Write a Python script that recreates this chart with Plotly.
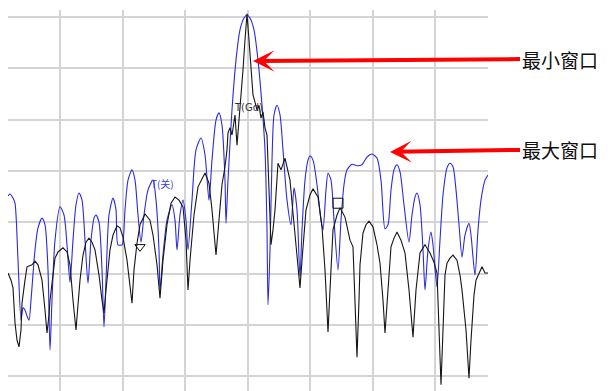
import plotly.graph_objects as go

# spectrum bins (0..480) and levels in dB
blue_bin = [0, 2, 5, 7, 10, 13, 15, 17, 19, 21, 23, 27, 30, 34, 37, 40, 42, 44, 47, 52, 56, 59, 62, 65, 68, 71, 74, 77, 80, 83, 86, 88, 91, 94, 96, 98, 101, 105, 108, 110, 114, 117, 120, 124, 127, 130, 133, 136, 140, 145, 148, 151, 152, 155, 159, 164, 167, 169, 172, 175, 178, 180, 184, 188, 193, 197, 201, 204, 208, 211, 214, 217, 218, 220, 224, 228, 232, 236, 239, 242, 246, 250, 254, 257, 259, 260, 262, 264, 266, 269, 272, 275, 279, 283, 286, 289, 292, 294, 297, 300, 302, 305, 309, 313, 315, 318, 320, 323, 326, 330, 333, 336, 339, 344, 349, 354, 359, 364, 369, 373, 377, 380, 383, 386, 389, 392, 396, 401, 404, 407, 409, 412, 415, 417, 420, 423, 425, 429, 432, 435, 439, 442, 445, 448, 451, 454, 457, 461, 463, 467, 470, 473, 477, 480]
blue_db = [-34.9, -34.5, -35.3, -36.3, -47.4, -59.1, -56.7, -57.1, -58.3, -59.1, -55.2, -45.4, -41.1, -39.2, -40.5, -49.3, -64.9, -55.2, -43.5, -37.0, -38.6, -44.4, -51.7, -43.5, -36.6, -34.3, -35.7, -43.5, -51.9, -43.5, -39.2, -38.6, -40.0, -49.3, -60.4, -51.3, -38.6, -35.3, -37.6, -44.4, -44.4, -37.6, -31.8, -29.8, -31.8, -38.6, -43.9, -38.6, -33.7, -31.8, -35.7, -45.4, -53.2, -46.4, -39.6, -36.6, -39.6, -45.4, -38.6, -35.7, -39.6, -45.4, -35.7, -25.9, -23.6, -26.9, -35.7, -27.9, -20.1, -18.7, -21.1, -31.8, -40.2, -31.8, -18.1, -8.4, -2.5, -0.2, 0.4, -0.2, -2.5, -8.4, -17.2, -25.9, -41.5, -56.1, -45.4, -27.9, -19.1, -17.2, -19.1, -25.9, -35.7, -40.5, -33.3, -37.6, -50.7, -41.5, -31.8, -27.9, -27.1, -27.9, -32.7, -39.6, -41.5, -33.7, -30.4, -31.8, -39.6, -49.3, -39.6, -32.7, -29.8, -28.7, -29.0, -28.8, -27.3, -26.7, -27.5, -31.8, -41.3, -40.5, -33.7, -29.8, -28.8, -30.2, -36.6, -43.9, -38.6, -35.1, -34.3, -36.6, -45.4, -53.2, -45.4, -41.9, -44.4, -52.6, -43.5, -34.7, -29.4, -28.5, -29.2, -33.7, -40.5, -46.8, -42.5, -40.2, -42.5, -50.3, -41.5, -35.7, -31.8, -30.8]

black_bin = [0, 3, 5, 7, 9, 11, 13, 14, 17, 19, 24, 27, 30, 34, 37, 39, 41, 42, 45, 47, 50, 55, 59, 62, 65, 68, 70, 72, 75, 78, 81, 84, 87, 91, 94, 96, 98, 102, 105, 109, 112, 115, 119, 122, 124, 126, 129, 132, 137, 142, 145, 149, 152, 155, 159, 163, 167, 171, 175, 178, 180, 182, 186, 190, 194, 197, 201, 204, 208, 211, 214, 217, 219, 220, 222, 224, 227, 229, 231, 233, 235, 237, 239, 241, 243, 245, 247, 249, 251, 253, 255, 257, 259, 261, 263, 265, 267, 270, 273, 277, 280, 282, 285, 288, 290, 292, 294, 298, 302, 305, 310, 314, 317, 320, 322, 325, 329, 332, 337, 342, 345, 347, 349, 351, 352, 355, 358, 361, 365, 369, 372, 375, 377, 380, 383, 386, 389, 393, 397, 401, 405, 408, 412, 415, 417, 422, 426, 429, 431, 433, 435, 437, 439, 442, 445, 449, 452, 454, 458, 461, 463, 466, 468, 472, 474, 477, 480]
black_db = [-49.9, -51.3, -52.8, -59.6, -63.0, -64.3, -61.0, -55.8, -51.3, -48.7, -48.3, -47.6, -48.3, -51.3, -57.1, -61.6, -58.1, -55.2, -50.3, -47.0, -45.8, -45.0, -45.8, -48.3, -55.2, -61.0, -56.1, -51.3, -46.4, -43.9, -43.1, -43.9, -45.4, -50.3, -55.2, -57.7, -53.2, -45.4, -42.5, -40.7, -41.1, -42.9, -47.4, -52.2, -55.8, -49.3, -44.1, -40.5, -38.4, -39.6, -42.5, -48.3, -54.8, -47.4, -40.5, -36.3, -35.1, -35.7, -37.0, -43.5, -53.2, -47.4, -38.6, -33.1, -31.4, -30.4, -32.4, -37.6, -46.4, -39.6, -32.7, -29.2, -25.9, -22.6, -21.6, -23.0, -19.1, -25.0, -20.1, -16.2, -10.3, -4.5, 0.6, -4.5, -10.3, -15.2, -16.6, -18.1, -17.2, -19.7, -18.5, -21.6, -23.0, -35.7, -44.4, -41.5, -37.6, -28.5, -29.8, -27.5, -29.8, -31.8, -38.2, -44.1, -48.3, -52.8, -47.4, -37.6, -34.7, -33.5, -35.1, -40.9, -49.3, -61.4, -53.2, -41.5, -38.6, -37.2, -39.0, -43.5, -44.8, -55.2, -66.3, -55.2, -48.3, -42.1, -40.5, -39.8, -40.9, -44.4, -48.0, -55.2, -61.6, -53.2, -44.8, -43.1, -41.9, -43.5, -46.0, -53.2, -62.4, -53.2, -46.0, -45.0, -44.4, -46.0, -47.8, -49.9, -61.0, -71.7, -61.0, -50.3, -48.0, -47.0, -46.4, -47.4, -50.3, -53.2, -61.0, -70.4, -63.0, -54.2, -51.3, -49.7, -48.7, -49.9, -49.9]

# marker / label annotations
blue_tag = {"bin": 154, "db": -32.4, "text": "T(关)"}
black_tag = {"bin": 240, "db": -17.7, "text": "T(Gd)"}
tri_mark = {"bin": 132, "db": -44.8}
box_mark = {"bin": 330, "db": -36.3}
arrow_labels = ["最小窗口", "最大窗口"]
arrow_tips_bin = [245, 382]
arrow_tips_db = [-8.6, -26.3]

fig = go.Figure()
fig.add_trace(go.Scatter(x=blue_bin, y=blue_db, mode="lines",
                         line=dict(color="#2a2ae0", width=1.1, shape="spline", smoothing=0.7),
                         hoverinfo="skip"))
fig.add_trace(go.Scatter(x=black_bin, y=black_db, mode="lines",
                         line=dict(color="#151515", width=1.1),
                         hoverinfo="skip"))
fig.add_trace(go.Scatter(x=[tri_mark["bin"]], y=[tri_mark["db"]], mode="markers",
                         marker=dict(symbol="triangle-down-open", size=9, color="#111111",
                                     line=dict(width=1, color="#111111")),
                         hoverinfo="skip"))
fig.add_trace(go.Scatter(x=[box_mark["bin"]], y=[box_mark["db"]], mode="markers",
                         marker=dict(symbol="square-open", size=10, color="#111111",
                                     line=dict(width=1, color="#111111")),
                         hoverinfo="skip"))

fig.add_annotation(x=blue_tag["bin"], y=blue_tag["db"], text=blue_tag["text"], showarrow=False,
                   font=dict(family="Noto Sans CJK SC", size=10, color="#3a3ae0"))
fig.add_annotation(x=black_tag["bin"], y=black_tag["db"], text=black_tag["text"], showarrow=False,
                   font=dict(family="DejaVu Sans", size=10, color="#333333"))

for lab, xb, yd in zip(arrow_labels, arrow_tips_bin, arrow_tips_db):
    fig.add_annotation(x=xb, y=yd, text=lab, showarrow=True, arrowhead=3, arrowsize=0.9,
                       arrowwidth=4, arrowcolor="#ff0000", standoff=0,
                       ax=520 - (8 + xb), ay=-2, xanchor="left",
                       font=dict(family="Noto Sans CJK SC", size=19, color="#111111"))

fig.update_layout(
    width=608, height=391,
    margin=dict(l=8, r=120, t=10, b=0),
    paper_bgcolor="white", plot_bgcolor="white",
    showlegend=False,
    xaxis=dict(range=[0, 480], tick0=52, dtick=62.5, showgrid=True, gridcolor="#d4d4d4",
               gridwidth=1.5, zeroline=False, showticklabels=False, ticks="", showline=False),
    yaxis=dict(range=[-72.9, 1.36], tick0=0, dtick=10, showgrid=True, gridcolor="#d4d4d4",
               gridwidth=1.5, zeroline=False, showticklabels=False, ticks="", showline=False),
)

fig.write_html("out.html", config={"displayModeBar": False},
               post_script="document.body.style.margin='0';document.body.style.overflow='hidden';")
